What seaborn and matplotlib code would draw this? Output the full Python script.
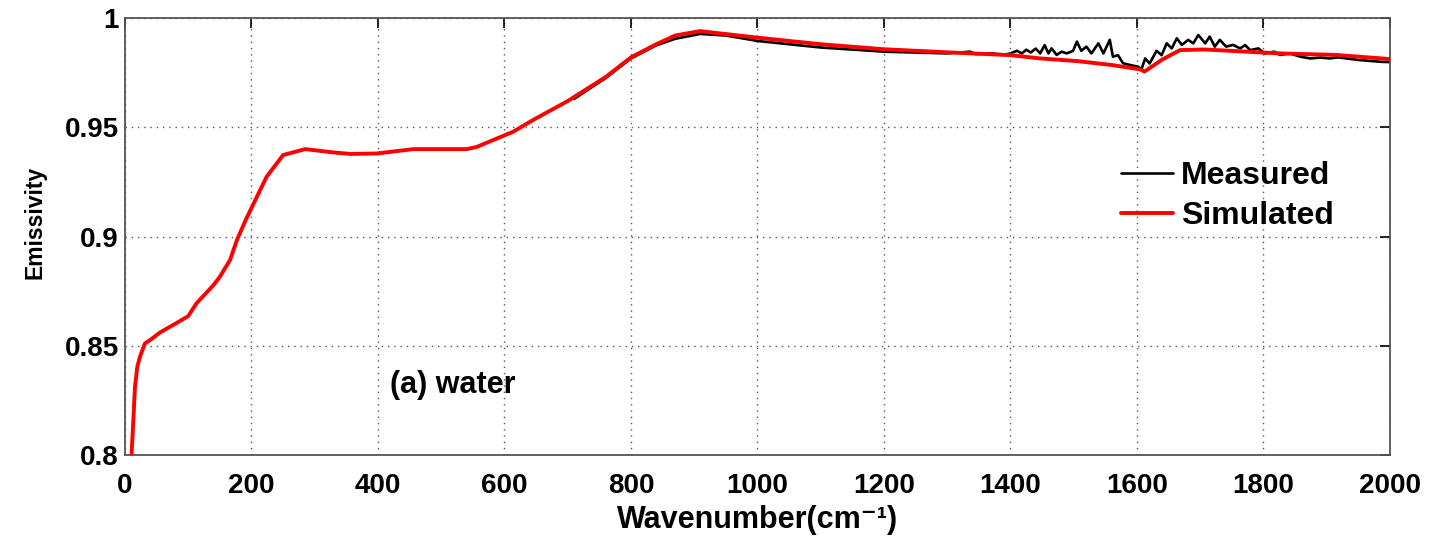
import matplotlib
matplotlib.use("Agg")
import matplotlib.pyplot as plt
import seaborn as sns
import pandas as pd

# Simulated emissivity spectrum of water
sim_wn = [10.5, 13.2, 15.8, 19.5, 23.7, 31.6, 39.5, 55, 71, 82, 100, 113, 140, 150,
          166, 177, 192, 224, 250, 285, 329, 356, 398, 456, 540, 556, 614, 645,
          700, 760, 800, 840, 870, 909, 1000, 1100, 1200, 1300, 1400, 1447, 1505,
          1560, 1605, 1612, 1640, 1668, 1706, 1773, 1826, 1915, 2000]
sim_em = [0.8008, 0.816, 0.8313, 0.8404, 0.845, 0.8511, 0.8526, 0.8560, 0.8587,
          0.8605, 0.8636, 0.8694, 0.8778, 0.8816, 0.8892, 0.8984, 0.9083, 0.9274,
          0.9373, 0.9400, 0.9385, 0.9378, 0.9380, 0.9400, 0.9400, 0.9410, 0.9480,
          0.9533, 0.9620, 0.9730, 0.9820, 0.9880, 0.9920, 0.9940, 0.9910, 0.9880,
          0.9857, 0.9843, 0.9830, 0.9815, 0.9803, 0.9785, 0.9765, 0.9755, 0.9810,
          0.9853, 0.9856, 0.9846, 0.9838, 0.9831, 0.9812]

# Measured emissivity spectrum of water
meas_wn = [710, 760, 800, 840, 870, 909, 950, 1000, 1100, 1200, 1300, 1336, 1345,
           1370, 1390, 1400, 1410, 1418, 1425, 1432, 1440, 1447, 1454, 1460, 1465,
           1473, 1481, 1489, 1499, 1505, 1512, 1520, 1528, 1539, 1547, 1557, 1562,
           1570, 1578, 1589, 1602, 1607, 1613, 1620, 1631, 1639, 1647, 1655, 1663,
           1671, 1681, 1689, 1697, 1708, 1715, 1723, 1731, 1741, 1752, 1763, 1771,
           1779, 1792, 1802, 1817, 1826, 1842, 1858, 1874, 1890, 1905, 1918, 1950,
           1984, 2000]
meas_em = [0.9630, 0.9725, 0.9815, 0.9875, 0.9905, 0.9927, 0.9920, 0.9895, 0.9865,
           0.9846, 0.9838, 0.9846, 0.9835, 0.9838, 0.9832, 0.9838, 0.9850, 0.9838,
           0.9855, 0.9842, 0.9860, 0.9838, 0.9876, 0.9838, 0.9861, 0.9831, 0.9846,
           0.9838, 0.9850, 0.9892, 0.9850, 0.9869, 0.9838, 0.9884, 0.9838, 0.9900,
           0.9823, 0.9830, 0.9793, 0.9785, 0.9777, 0.9765, 0.9815, 0.9792, 0.9850,
           0.9830, 0.9884, 0.9861, 0.9907, 0.9877, 0.9900, 0.9884, 0.9922, 0.9884,
           0.9915, 0.9869, 0.9900, 0.9869, 0.9877, 0.9861, 0.9876, 0.9853, 0.9861,
           0.9838, 0.9846, 0.9831, 0.9838, 0.9823, 0.9815, 0.9819, 0.9815, 0.9820,
           0.9808, 0.9800, 0.9798]

x_ticks = list(range(0, 2001, 200))
y_ticks = [0.8, 0.85, 0.9, 0.95, 1.0]
y_tick_labels = ["0.8", "0.85", "0.9", "0.95", "1"]

sns.set_style("white")
plt.rcParams["font.family"] = ["Liberation Sans", "DejaVu Sans"]
plt.rcParams["font.weight"] = "bold"
plt.rcParams["text.color"] = "black"
plt.rcParams["axes.labelcolor"] = "black"
plt.rcParams["xtick.color"] = "black"
plt.rcParams["ytick.color"] = "black"

meas = pd.DataFrame({"Wavenumber": meas_wn, "Emissivity": meas_em})
sim = pd.DataFrame({"Wavenumber": sim_wn, "Emissivity": sim_em})

fig = plt.figure(figsize=(14.3, 5.36), dpi=100)
ax = fig.add_axes([0.0874, 0.151, 0.8846, 0.8154])

sns.lineplot(data=meas, x="Wavenumber", y="Emissivity", ax=ax, color="black",
             linewidth=1.9, label="Measured", sort=False, zorder=2)
sns.lineplot(data=sim, x="Wavenumber", y="Emissivity", ax=ax, color="#ff0000",
             linewidth=2.8, label="Simulated", sort=False, zorder=3)

ax.set_xlim(0, 2000)
ax.set_ylim(0.8, 1.0)
ax.set_xticks(x_ticks)
ax.set_yticks(y_ticks)
ax.set_yticklabels(y_tick_labels)
ax.tick_params(direction="in", length=7, width=1.2, labelsize=20,
               top=True, right=True)
ax.tick_params(axis="x", pad=13)
ax.tick_params(axis="y", pad=4.5)
for t in ax.get_xticklabels() + ax.get_yticklabels():
    t.set_fontweight("bold")
for tl in ax.xaxis.get_ticklines() + ax.yaxis.get_ticklines():
    tl.set_color("#444444")
for side in ax.spines.values():
    side.set_visible(True)
    side.set_color("#555555")
    side.set_linewidth(1.3)

ax.grid(True, color="#555555", linestyle=(0, (1, 3.5)), linewidth=1.0)

ax.set_xlabel("Wavenumber(cm\u207b\u00b9)", fontsize=22, fontweight="bold",
              labelpad=4.5)
ax.set_ylabel("Emissivity", fontsize=16.5, fontweight="bold")
ax.yaxis.set_label_coords(-0.062, 0.533)

ax.text(419, 0.832, "(a) water", fontsize=22, fontweight="bold",
        va="center", ha="left")

ax.legend(loc="upper left", bbox_to_anchor=(0.787, 0.672), frameon=False,
          prop={"size": 23, "weight": "bold"}, handlelength=1.65,
          handletextpad=0.25, labelspacing=0.3, borderpad=0,
          borderaxespad=0)

fig.savefig("out.png", dpi=100)
